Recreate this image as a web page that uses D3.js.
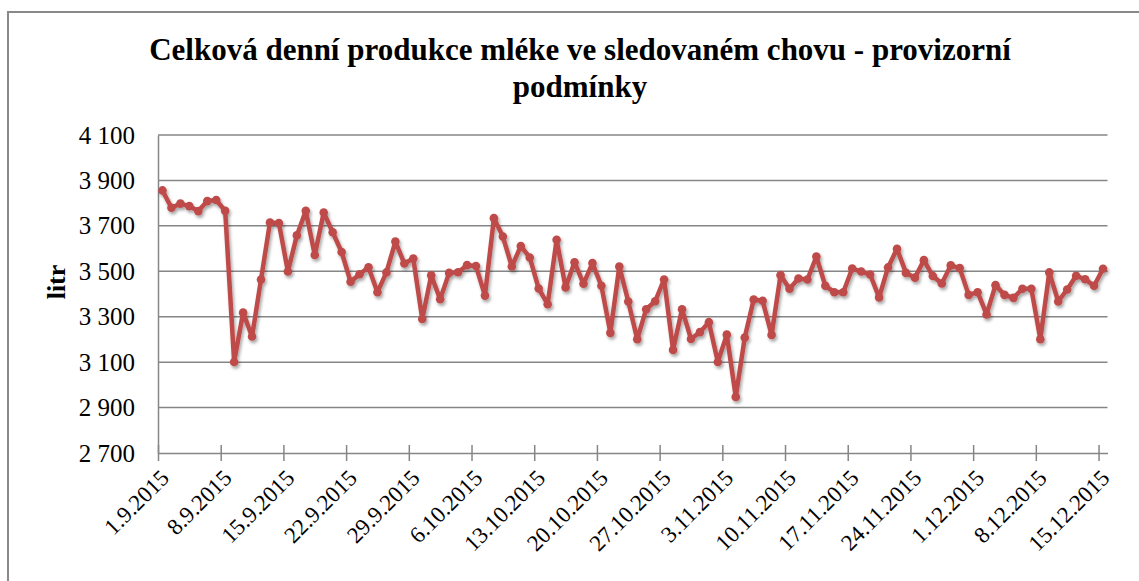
<!DOCTYPE html>
<html>
<head>
<meta charset="utf-8">
<script src="https://cdn.jsdelivr.net/npm/d3@7/dist/d3.min.js"></script>
<style>
  html, body { margin: 0; padding: 0; background: #fff; }
  svg { display: block; font-family: "Liberation Serif", "Times New Roman", serif; }
</style>
</head>
<body>
<svg id="chart" width="1139" height="581"></svg>
<script>
// Daily milk production (litres), 1.9.2015 – 15.12.2015
const startDate = new Date(Date.UTC(2015, 8, 1));
const endDate = new Date(Date.UTC(2015, 11, 16)); // axis ends one day after the last observation
const days = d3.utcDay.range(startDate, endDate);

const milkLitres = [
  3856, 3780, 3798, 3787, 3765, 3809, 3814, 3766, 3101, 3318,
  3213, 3464, 3715, 3712, 3499, 3658, 3766, 3572, 3759, 3672,
  3585, 3454, 3487, 3518, 3408, 3495, 3631, 3534, 3556, 3290,
  3482, 3377, 3493, 3496, 3527, 3523, 3393, 3734, 3653, 3521,
  3611, 3561, 3424, 3355, 3639, 3429, 3540, 3445, 3536, 3436,
  3229, 3521, 3367, 3201, 3333, 3368, 3464, 3154, 3333, 3202,
  3232, 3276, 3101, 3221, 2947, 3208, 3376, 3370, 3220, 3483,
  3423, 3468, 3464, 3565, 3436, 3408, 3408, 3512, 3499, 3486,
  3385, 3517, 3599, 3493, 3472, 3549, 3479, 3446, 3526, 3514,
  3396, 3408, 3310, 3439, 3396, 3383, 3423, 3423, 3201, 3495,
  3367, 3420, 3480, 3465, 3436, 3511
];

const yTicks = [2700, 2900, 3100, 3300, 3500, 3700, 3900, 4100];
const xTickLabels = [
  "1.9.2015", "8.9.2015", "15.9.2015", "22.9.2015", "29.9.2015",
  "6.10.2015", "13.10.2015", "20.10.2015", "27.10.2015", "3.11.2015",
  "10.11.2015", "17.11.2015", "24.11.2015", "1.12.2015", "8.12.2015",
  "15.12.2015"
];
const titleLines = ["Celková denní produkce mléke ve sledovaném chovu - provizorní", "podmínky"];
const yAxisTitle = "litr";

const data = days.map((d, i) => ({ date: d, value: milkLitres[i] }));
// weekly ticks starting from the first day
const tickDates = xTickLabels.map((_, k) => d3.utcDay.offset(startDate, 7 * k));

const svg = d3.select("#chart");
const plot = { left: 158, right: 1107.5, top: 135, bottom: 453 };

const x = d3.scaleUtc().domain([startDate, endDate]).range([plot.left, plot.right]);
const y = d3.scaleLinear().domain([2700, 4100]).range([plot.bottom, plot.top]);
const mid = d => d3.utcHour.offset(d, 12);

// chart frame
svg.append("rect")
  .attr("x", 8).attr("y", 12).attr("width", 1200).attr("height", 700)
  .attr("fill", "none").attr("stroke", "#898989").attr("stroke-width", 2);

// title
svg.append("text")
  .attr("text-anchor", "middle")
  .attr("font-weight", "bold")
  .attr("font-size", 31)
  .attr("fill", "#000")
  .selectAll("tspan").data(titleLines).join("tspan")
  .attr("x", 580)
  .attr("y", (d, i) => 60 + i * 37)
  .text(d => d);

// horizontal gridlines
svg.append("g")
  .selectAll("line").data(yTicks.slice(1)).join("line")
  .attr("x1", plot.left).attr("x2", plot.right)
  .attr("y1", d => y(d)).attr("y2", d => y(d))
  .attr("stroke", "#868686").attr("stroke-width", 1.5);

// y axis
const yAxis = svg.append("g")
  .attr("transform", `translate(${plot.left},0)`)
  .call(d3.axisLeft(y).tickValues(yTicks).tickSize(0).tickPadding(23)
    .tickFormat(d => d3.format(",")(d).replace(",", "\u00a0")));
yAxis.select(".domain").attr("stroke", "#868686").attr("stroke-width", 1.5);
yAxis.selectAll("text")
  .attr("font-family", "Liberation Serif, Times New Roman, serif")
  .attr("font-size", 25).attr("fill", "#000");

// x axis with crossing ticks
const xAxis = svg.append("g")
  .attr("transform", `translate(0,${plot.bottom})`)
  .call(d3.axisBottom(x).tickValues(tickDates).tickSizeInner(8).tickSizeOuter(0).tickFormat(() => ""));
xAxis.select(".domain").attr("stroke", "#868686").attr("stroke-width", 1.5);
xAxis.selectAll(".tick line").attr("stroke", "#868686").attr("stroke-width", 1.5).attr("y1", -8);

svg.append("g")
  .selectAll("text").data(tickDates).join("text")
  .attr("transform", d => `translate(${x(d) + 1},${plot.bottom + 15}) rotate(-45)`)
  .attr("text-anchor", "end")
  .attr("dy", "0.7em")
  .attr("font-size", 23)
  .attr("fill", "#000")
  .text((d, i) => xTickLabels[i]);

// y axis title
svg.append("text")
  .attr("transform", "translate(65,282) rotate(-90)")
  .attr("text-anchor", "middle")
  .attr("font-weight", "bold")
  .attr("font-size", 26)
  .attr("fill", "#000")
  .text(yAxisTitle);

// series shadow
const defs = svg.append("defs");
defs.append("filter").attr("id", "shadow")
  .attr("x", "-5%").attr("y", "-5%").attr("width", "110%").attr("height", "120%")
  .append("feDropShadow")
  .attr("dx", 1.5).attr("dy", 2.5).attr("stdDeviation", 1.5)
  .attr("flood-color", "#000").attr("flood-opacity", 0.35);

const series = svg.append("g").attr("filter", "url(#shadow)");
const line = d3.line().x(d => x(mid(d.date))).y(d => y(d.value));

series.append("path")
  .datum(data)
  .attr("d", line)
  .attr("fill", "none")
  .attr("stroke", "#be4b48")
  .attr("stroke-width", 4.5)
  .attr("stroke-linejoin", "round");

series.selectAll("circle").data(data).join("circle")
  .attr("cx", d => x(mid(d.date)))
  .attr("cy", d => y(d.value))
  .attr("r", 4.3)
  .attr("fill", "#be4b48");
</script>
</body>
</html>
